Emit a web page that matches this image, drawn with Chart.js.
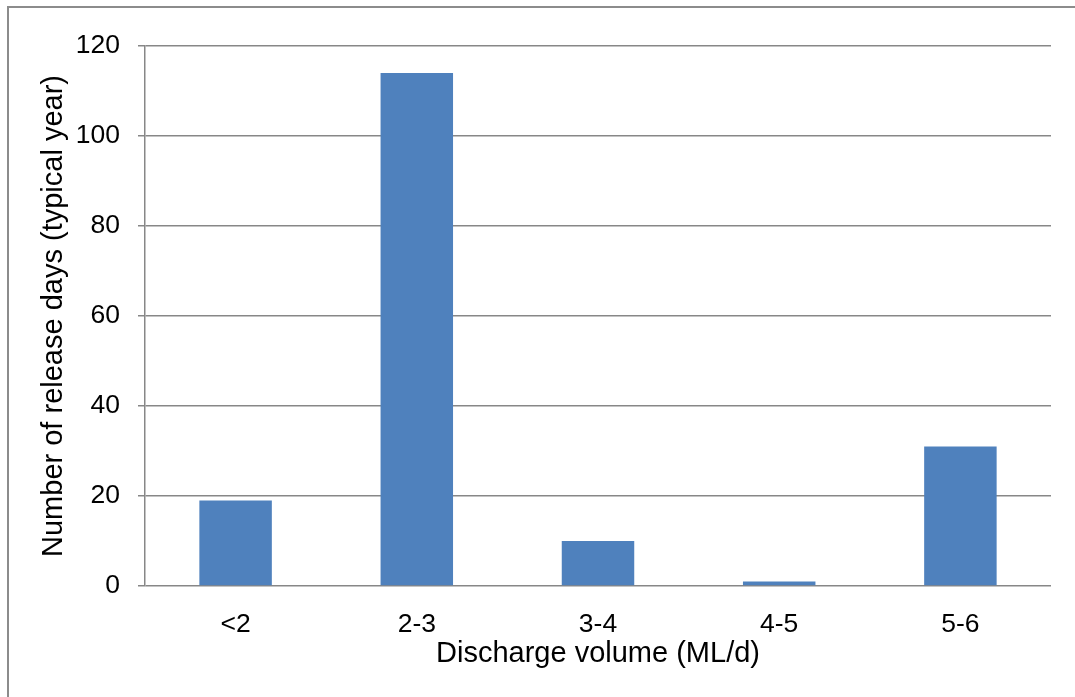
<!DOCTYPE html>
<html>
<head>
<meta charset="utf-8">
<script src="https://cdn.jsdelivr.net/npm/chart.js@4/dist/chart.umd.min.js"></script>
<style>
  html, body { margin: 0; padding: 0; background: #ffffff; }
  #wrap { position: relative; width: 1075px; height: 697px; overflow: hidden; }
  #frame {
    position: absolute; left: 7px; top: 6px; width: 1200px; height: 800px;
    border-top: 2px solid #8c8c8c; border-left: 2px solid #8c8c8c;
    pointer-events: none;
  }
  canvas { position: absolute; left: 0; top: 0; }
</style>
</head>
<body>
<div id="wrap">
  <div id="frame"></div>
  <canvas id="chart" width="1075" height="697"></canvas>
</div>
<script>
// Release days in a typical year, grouped by discharge volume
const categories = ['<2', '2-3', '3-4', '4-5', '5-6'];
const releaseDays = [19, 114, 10, 1, 31];
const yTicks = [0, 20, 40, 60, 80, 100, 120];

const xTitle = 'Discharge volume (ML/d)';
const yTitle = 'Number of release days (typical year)';

const gridColor = '#878787';
const fontFamily = '"Liberation Sans", Arial, sans-serif';

new Chart(document.getElementById('chart'), {
  type: 'bar',
  data: {
    labels: categories,
    datasets: [{
      data: releaseDays,
      backgroundColor: '#4f81bd',
      borderWidth: 0,
      categoryPercentage: 1.0,
      barPercentage: 0.4
    }]
  },
  options: {
    responsive: false,
    animation: false,
    devicePixelRatio: 1,
    layout: { padding: { top: 46, right: 24, left: 0, bottom: 0 } },
    plugins: { legend: { display: false }, tooltip: { enabled: false } },
    scales: {
      x: {
        grid: { display: false },
        border: { display: false },
        ticks: {
          color: '#000000',
          padding: 15,
          font: { family: fontFamily, size: 26.5 }
        },
        title: {
          display: true,
          text: xTitle,
          color: '#000000',
          font: { family: fontFamily, size: 29 },
          padding: { top: 0, bottom: 26 }
        },
        afterFit(scale) { scale.height = 111; }
      },
      y: {
        min: yTicks[0],
        max: yTicks[yTicks.length - 1],
        afterBuildTicks(scale) { scale.ticks = yTicks.map(v => ({ value: v })); },
        grid: {
          color: gridColor,
          lineWidth: 1.5,
          drawTicks: true,
          tickLength: 7,
          tickColor: gridColor
        },
        border: { display: true, color: gridColor, width: 1.5 },
        ticks: {
          color: '#000000',
          padding: 18,
          font: { family: fontFamily, size: 26.5 }
        },
        title: {
          display: true,
          text: yTitle,
          color: '#000000',
          font: { family: fontFamily, size: 29 },
          padding: { top: 37, bottom: 0 }
        },
        afterFit(scale) { scale.width = 145; }
      }
    }
  }
});
</script>
</body>
</html>
